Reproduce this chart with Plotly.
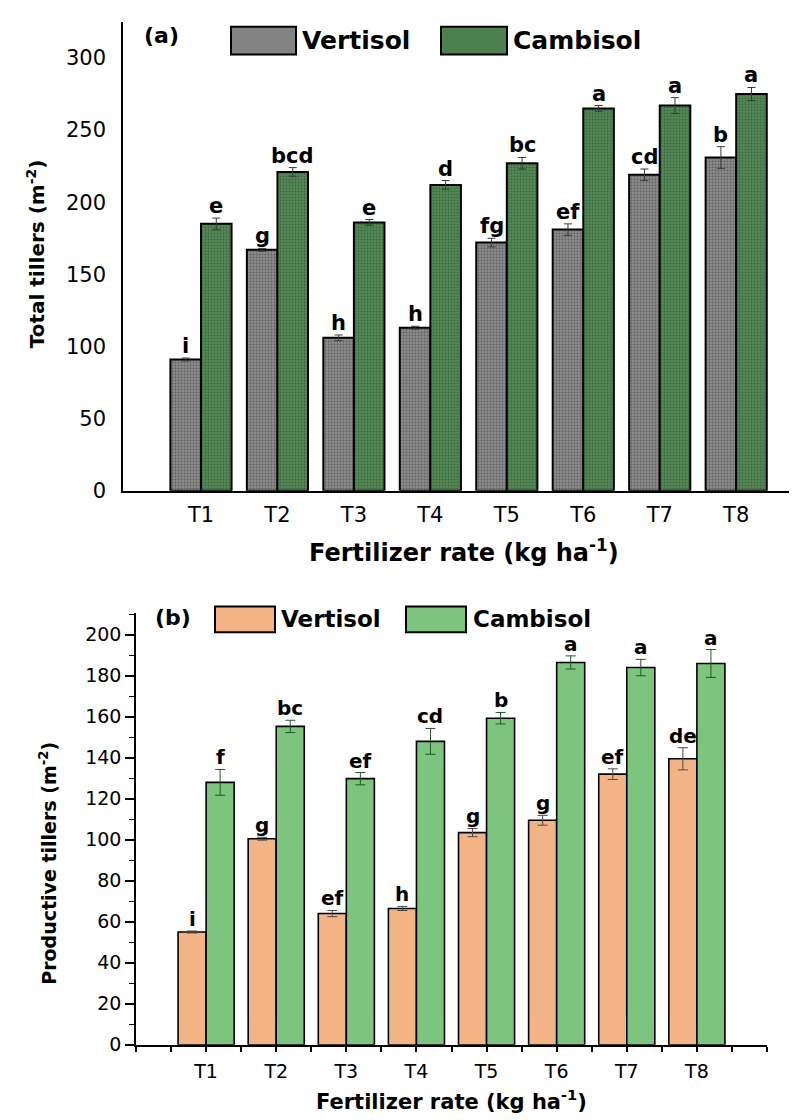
import plotly.graph_objects as go

W, H = 797, 1120

categories = ["T1", "T2", "T3", "T4", "T5", "T6", "T7", "T8"]

# Panel (a): Total tillers (m-2)
a_vert = [91, 167, 106, 113, 172, 181, 219, 231]
a_vert_err = [1, 1, 2, 1, 3, 4, 4, 7.5]
a_camb = [185, 221, 186, 212, 227, 265, 267, 275]
a_camb_err = [4, 3, 2, 3, 4, 2, 5.5, 4.5]
a_vert_letters = ["i", "g", "h", "h", "fg", "ef", "cd", "b"]
a_camb_letters = ["e", "bcd", "e", "d", "bc", "a", "a", "a"]

# Panel (b): Productive tillers (m-2)
b_vert = [55, 100.5, 64, 66.5, 103.5, 109.5, 132, 139.5]
b_vert_err = [0.5, 0.7, 1.5, 1, 2, 2.4, 2.6, 5.4]
b_camb = [128, 155.3, 129.8, 148, 159.3, 186.5, 184, 186]
b_camb_err = [6.3, 3, 3, 6.3, 2.8, 3.2, 4, 6.8]
b_vert_letters = ["i", "g", "ef", "h", "g", "g", "ef", "de"]
b_camb_letters = ["f", "bc", "ef", "cd", "b", "a", "a", "a"]

a_yticks = [0, 50, 100, 150, 200, 250, 300]
b_yticks = [0, 20, 40, 60, 80, 100, 120, 140, 160, 180, 200]

FONT = "DejaVu Sans"
xs = list(range(len(categories)))


def px(x):
    return x / W


def py(y):
    return 1 - y / H


fig = go.Figure()

# --- panel (a) bars
fig.add_trace(go.Bar(
    x=xs, y=a_vert, name="Vertisol", xaxis="x", yaxis="y", offsetgroup="v",
    marker=dict(color="#838383", line=dict(color="black", width=2),
                pattern=dict(shape=".", size=3, solidity=0.35, fgcolor="#5e5e5e",
                             bgcolor="#8e8e8e", fillmode="replace")),
    error_y=dict(type="data", array=a_vert_err, color="#3a3a3a", thickness=1, width=4),
    showlegend=False))
fig.add_trace(go.Bar(
    x=xs, y=a_camb, name="Cambisol", xaxis="x", yaxis="y", offsetgroup="c",
    marker=dict(color="#4d804f", line=dict(color="black", width=2),
                pattern=dict(shape=".", size=3, solidity=0.35, fgcolor="#39663b",
                             bgcolor="#568a58", fillmode="replace")),
    error_y=dict(type="data", array=a_camb_err, color="#3a3a3a", thickness=1, width=4),
    showlegend=False))

# --- panel (b) bars
fig.add_trace(go.Bar(
    x=xs, y=b_vert, name="Vertisol", xaxis="x2", yaxis="y2", offsetgroup="v",
    marker=dict(color="#f2b485", line=dict(color="black", width=1.6)),
    error_y=dict(type="data", array=b_vert_err, color="#4a4a4a", thickness=1, width=5),
    showlegend=False))
fig.add_trace(go.Bar(
    x=xs, y=b_camb, name="Cambisol", xaxis="x2", yaxis="y2", offsetgroup="c",
    marker=dict(color="#7dc47f", line=dict(color="black", width=1.6)),
    error_y=dict(type="data", array=b_camb_err, color="#24562a", thickness=1, width=5),
    showlegend=False))

annotations = []
# significance letters
for i in xs:
    annotations.append(dict(x=i - 0.2, y=a_vert[i] + a_vert_err[i], xref="x", yref="y",
                            text="<b>%s</b>" % a_vert_letters[i], showarrow=False,
                            yanchor="bottom", yshift=-2, font=dict(family=FONT, size=21, color="black")))
    annotations.append(dict(x=i + 0.2, y=a_camb[i] + a_camb_err[i], xref="x", yref="y",
                            text="<b>%s</b>" % a_camb_letters[i], showarrow=False,
                            yanchor="bottom", yshift=-2, font=dict(family=FONT, size=21, color="black")))
    annotations.append(dict(x=i - 0.2, y=b_vert[i] + b_vert_err[i], xref="x2", yref="y2",
                            text="<b>%s</b>" % b_vert_letters[i], showarrow=False,
                            yanchor="bottom", yshift=-2, font=dict(family=FONT, size=20, color="black")))
    annotations.append(dict(x=i + 0.2, y=b_camb[i] + b_camb_err[i], xref="x2", yref="y2",
                            text="<b>%s</b>" % b_camb_letters[i], showarrow=False,
                            yanchor="bottom", yshift=-2, font=dict(family=FONT, size=20, color="black")))


def txt(x, y, s, size, xanchor="left", angle=0):
    annotations.append(dict(x=px(x), y=py(y), xref="paper", yref="paper", text=s,
                            showarrow=False, xanchor=xanchor, yanchor="middle",
                            textangle=angle, font=dict(family=FONT, size=size, color="black")))


# panel labels, legends and axis titles
txt(134, 28, "<b>(a)</b>", 22)
txt(292, 33, "<b>Vertisol</b>", 25)
txt(503, 33, "<b>Cambisol</b>", 25)
txt(145, 616, "<b>(b)</b>", 22)
txt(271, 618, "<b>Vertisol</b>", 23)
txt(463, 618, "<b>Cambisol</b>", 23)
txt(28, 249, "<b>Total tillers (m<sup>-2</sup>)</b>", 20, xanchor="center", angle=-90)
txt(40, 865, "<b>Productive tillers (m<sup>-2</sup>)</b>", 19, xanchor="center", angle=-90)
txt(456, 549, "<b>Fertilizer rate (kg ha<sup>-1</sup>)</b>", 24, xanchor="center")
txt(443, 1104, "<b>Fertilizer rate (kg ha<sup>-1</sup>)</b>", 21, xanchor="center")

shapes = []


def box(x0, y0, x1, y1, color):
    shapes.append(dict(type="rect", xref="paper", yref="paper", x0=px(x0), x1=px(x1),
                       y0=py(y1), y1=py(y0), fillcolor=color,
                       line=dict(color="black", width=2)))


box(223, 19, 288, 47, "#838383")
box(433, 19, 499, 47, "#4d804f")
box(207, 605, 267, 631, "#f2b485")
box(398, 605, 458, 631, "#7dc47f")

tickfont_a = dict(family=FONT, size=21, color="black")
tickfont_b = dict(family=FONT, size=19, color="black")

fig.update_layout(
    width=W, height=H,
    margin=dict(l=0, r=0, t=0, b=0),
    paper_bgcolor="white", plot_bgcolor="white",
    barmode="group", bargap=0.2, bargroupgap=0,
    annotations=annotations, shapes=shapes,
    xaxis=dict(domain=[px(115), 1.0], range=[-1.02, 7.9], tickmode="array",
               tickvals=xs, ticktext=categories, showline=True, linecolor="black",
               linewidth=1.5, ticks="", showgrid=False, zeroline=False,
               tickfont=tickfont_a, ticklabelstandoff=4, anchor="y"),
    yaxis=dict(domain=[py(488), py(14)], range=[0, 325], tickmode="array",
               tickvals=a_yticks, showline=True, linecolor="black", linewidth=1.5,
               ticks="", showgrid=False, zeroline=False, tickfont=tickfont_a,
               ticklabelstandoff=11, anchor="x"),
    xaxis2=dict(domain=[px(128), px(759)], range=[-1, 8], tickmode="array",
                tickvals=xs, ticktext=categories, showline=True, linecolor="black",
                linewidth=1.5, ticks="outside", ticklen=5, tickwidth=1.5, tickcolor="black",
                minor=dict(tickmode="array", tickvals=[-1, -0.5, 0.5, 1.5, 2.5, 3.5, 4.5, 5.5, 6.5, 7.5, 8],
                           ticks="outside", ticklen=5, tickwidth=1.5, tickcolor="black"),
                showgrid=False, zeroline=False, tickfont=tickfont_b,
                ticklabelstandoff=4, anchor="y2"),
    yaxis2=dict(domain=[py(1048), py(612)], range=[0, 210.4], tickmode="array",
                tickvals=b_yticks, showline=True, linecolor="black", linewidth=1.5,
                ticks="outside", ticklen=9, tickwidth=1.5, tickcolor="black",
                minor=dict(dtick=10, tick0=0, ticks="outside", ticklen=5, tickwidth=1.2,
                           tickcolor="black"),
                showgrid=False, zeroline=False, tickfont=tickfont_b, anchor="x2"),
)

fig.write_html("out.html")
